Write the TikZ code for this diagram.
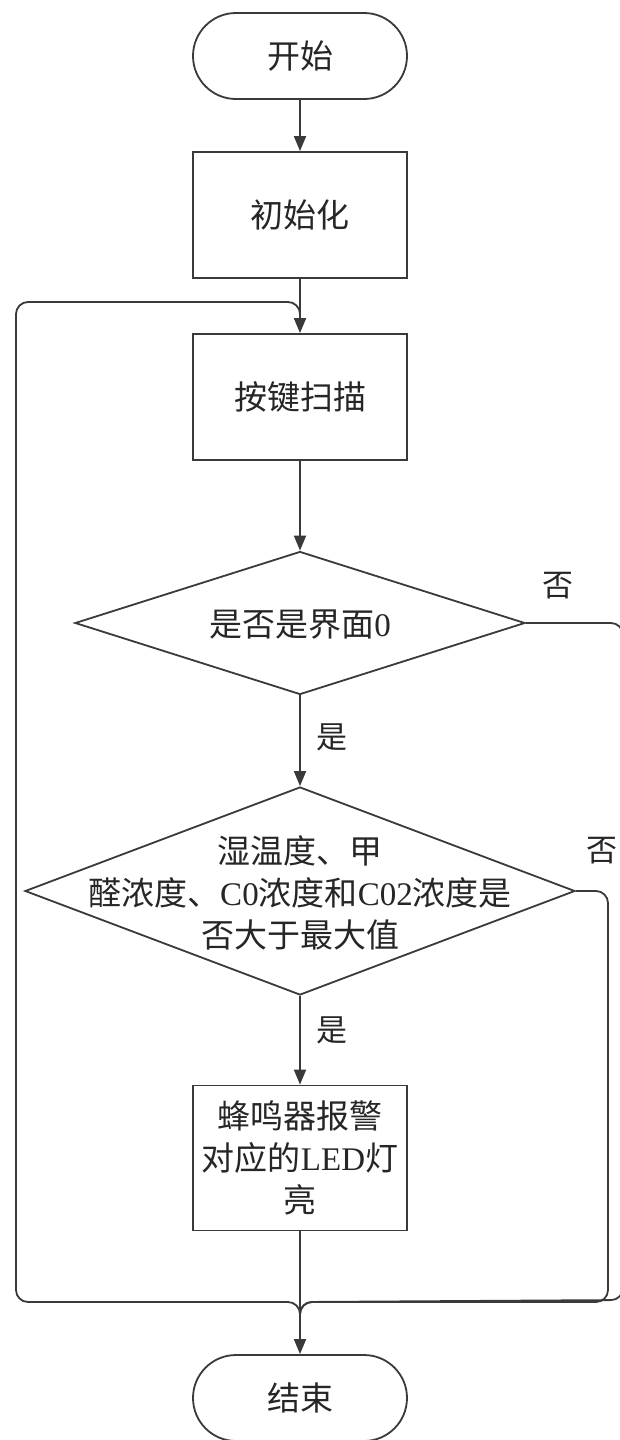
\documentclass[tikz,border=0pt]{standalone}
\usepackage{fontspec}
\setmainfont{Liberation Serif}
\newfontfamily\cjk{Noto Sans CJK SC}
\usetikzlibrary{shapes.geometric,shapes.misc,arrows.meta}
\definecolor{ln}{HTML}{3A3A3A}
\definecolor{tx}{HTML}{262626}
\tikzset{
  line/.style={draw=ln, line width=1.8pt},
  arr/.style={line, -{Triangle[length=15pt,width=12pt]}},
  term/.style={rounded rectangle, line, minimum width=214pt, minimum height=86pt, inner sep=0pt, font=\fontsize{33}{42}\selectfont, text=tx},
  proc/.style={rectangle, line, minimum width=214pt, inner sep=0pt, align=center, font=\fontsize{33}{42}\selectfont, text=tx},
  dec/.style={diamond, line, inner sep=0pt},
  dtext/.style={align=center, inner sep=0pt, font=\fontsize{33}{42}\selectfont, text=tx},
  lbl/.style={inner sep=0pt, font=\fontsize{31}{38}\selectfont, text=tx},
  loop/.style={line, rounded corners=12pt}
}
\begin{document}
\begin{tikzpicture}[x=1pt,y=-1pt]
\useasboundingbox (0,0) rectangle (620,1440);
\fill[white] (0,0) rectangle (620,1440);

\node[term] (start) at (300,56) {\cjk 开始};
\node[proc, minimum height=126pt] (init) at (300,215) {\cjk 初始化};
\node[proc, minimum height=126pt] (ks) at (300,397) {\cjk 按键扫描};
\node[dec, minimum width=450pt, minimum height=143pt] (d1) at (300,623) {};
\node[dtext] (d1t) at (300,625) {{\cjk 是否是界面}0};
\node[dec, minimum width=550pt, minimum height=208pt] (d2) at (300,891) {};
\node[dtext] (d2t) at (300,893) {{\cjk 湿温度、甲}\\{\cjk 醛浓度、}C0{\cjk 浓度和}C02{\cjk 浓度是}\\{\cjk 否大于最大值}};
\node[proc, minimum height=145pt] (alarm) at (300,1158) {{\cjk 蜂鸣器报警}\\{\cjk 对应的}LED{\cjk 灯}\\{\cjk 亮}};
\node[term] (end) at (300,1398) {\cjk 结束};

\node[lbl] (no1) at (558,586) {\cjk 否};
\node[lbl] (yes1) at (332,737) {\cjk 是};
\node[lbl] (no2) at (602,851) {\cjk 否};
\node[lbl] (yes2) at (332,1030) {\cjk 是};

\coordinate (m) at (300,302);
\coordinate (mb) at (300,322);
\coordinate (tl) at (16,302);
\coordinate (jl) at (16,1302);
\coordinate (j) at (300,1302);
\coordinate (jb) at (300,1322);
\coordinate (r1t) at (623,623);
\coordinate (r1b) at (623,1300);
\coordinate (r2t) at (608,891);
\coordinate (r2b) at (608,1302);

\draw[arr] (start) -- (init);
\draw[arr] (init) -- (ks);
\draw[arr] (ks) -- (d1);
\draw[arr] (d1) -- (d2);
\draw[arr] (d2) -- (alarm);
\draw[arr] (alarm) -- (end);

\draw[loop] (jb) -- (j) -- (jl) -- (tl) -- (m) -- (mb);
\draw[loop] (d1.east) -- (r1t) -- (r1b) -- (j) -- (jb);
\draw[loop] (d2.east) -- (r2t) -- (r2b) -- (j) -- (jb);
\end{tikzpicture}
\end{document}
